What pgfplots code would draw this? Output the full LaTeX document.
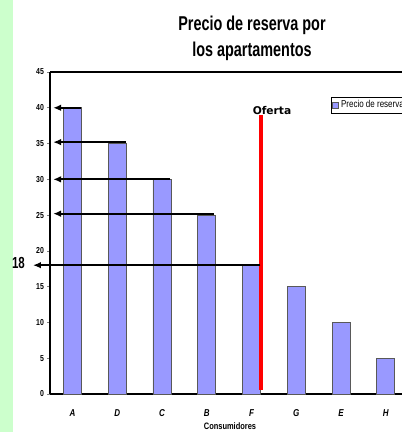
\documentclass[border=0pt]{standalone}
\usepackage{pgfplots}
\pgfplotsset{compat=1.18}
\usetikzlibrary{arrows.meta}
\usepackage{fontspec}
\setmainfont{Liberation Sans}
\newfontfamily\narrow[FakeStretch=0.8]{Liberation Sans}
\newfontfamily\titlefont[FakeStretch=0.72]{Liberation Sans}
\newfontfamily\ofertafont{DejaVu Sans}
\definecolor{barfill}{HTML}{9999FF}
\definecolor{sidegreen}{HTML}{CCFFCC}
\begin{document}
\begin{tikzpicture}[x=0.75pt,y=0.75pt]
\path[use as bounding box] (0,0) rectangle (402,432);
\clip (0,0) rectangle (402,432);
\fill[sidegreen] (0,0) rectangle (13,432);
\begin{axis}[
  at={(37.5pt,28.5pt)}, anchor=south west,
  scale only axis, width=264pt, height=241.5pt,
  xmin=-0.5, xmax=7.36, ymin=0, ymax=45,
  enlargelimits=false, clip=false,
  axis x line=box, axis y line=left,
  axis line style={-, line width=0.8pt},
  ytick={0,5,...,45},
  xtick={0,...,7},
  xticklabels={A,D,C,B,F,G,E,H},
  tick align=outside,
  major tick length=2pt,
  xtick style={draw=none},
  ytick style={line width=0.5pt},
  /pgf/number format/assume math mode=true,
  yticklabel style={font=\narrow\bfseries\fontsize{6.5}{7}\selectfont, xshift=1pt},
  xticklabel style={font=\narrow\bfseries\itshape\fontsize{7.5}{8}\selectfont, yshift=-6pt},
  ybar, bar width=13.5pt,
  legend style={at={(0.798,0.922)}, anchor=north west, draw=black, line width=0.4pt,
    font=\narrow\fontsize{7.5}{8}\selectfont, inner sep=0.5pt, row sep=0pt,
    legend cell align=left},
  legend image code/.code={\draw[#1, line width=0.4pt] (0cm,-0.09cm) rectangle (0.16cm,0.09cm);},
]
\addplot[fill=barfill, draw=black!65, line width=0.6pt] coordinates {
  (0,40) (1,35) (2,30) (3,25) (4,18) (5,15) (6,10) (7,5)};
\addlegendentry{Precio de reserva}
\draw[red, line width=3pt] (axis cs:4.22,0.56) -- (axis cs:4.22,39.0);
\draw[line width=1.5pt, -{Latex[length=6pt,width=5pt]}] (axis cs:0.2,40) -- (axis cs:-0.43,40);
\draw[line width=1.5pt, -{Latex[length=6pt,width=5pt]}] (axis cs:1.2,35.2) -- (axis cs:-0.43,35.2);
\draw[line width=1.5pt, -{Latex[length=6pt,width=5pt]}] (axis cs:2.19,30) -- (axis cs:-0.43,30);
\draw[line width=1.5pt, -{Latex[length=6pt,width=5pt]}] (axis cs:3.17,25.2) -- (axis cs:-0.43,25.2);
\draw[line width=1.5pt, -{Latex[length=6pt,width=5pt]}] (axis cs:4.2,18) -- (axis cs:-0.88,18);
\end{axis}
\node[anchor=base, font=\titlefont\bfseries\fontsize{15}{17}\selectfont] at (252,401) {Precio de reserva por};
\node[anchor=base, font=\titlefont\bfseries\fontsize{15}{17}\selectfont] at (252,375) {los apartamentos};
\node[anchor=base, font=\ofertafont\bfseries\fontsize{8}{9}\selectfont] at (272,317) {Oferta};
\node[anchor=base, font=\titlefont\bfseries\fontsize{12}{13}\selectfont] at (18.5,163) {18};
\node[anchor=base, inner sep=0pt, font=\narrow\bfseries\fontsize{7}{8}\selectfont] at (230,2.5) {Consumidores};
\end{tikzpicture}
\end{document}
